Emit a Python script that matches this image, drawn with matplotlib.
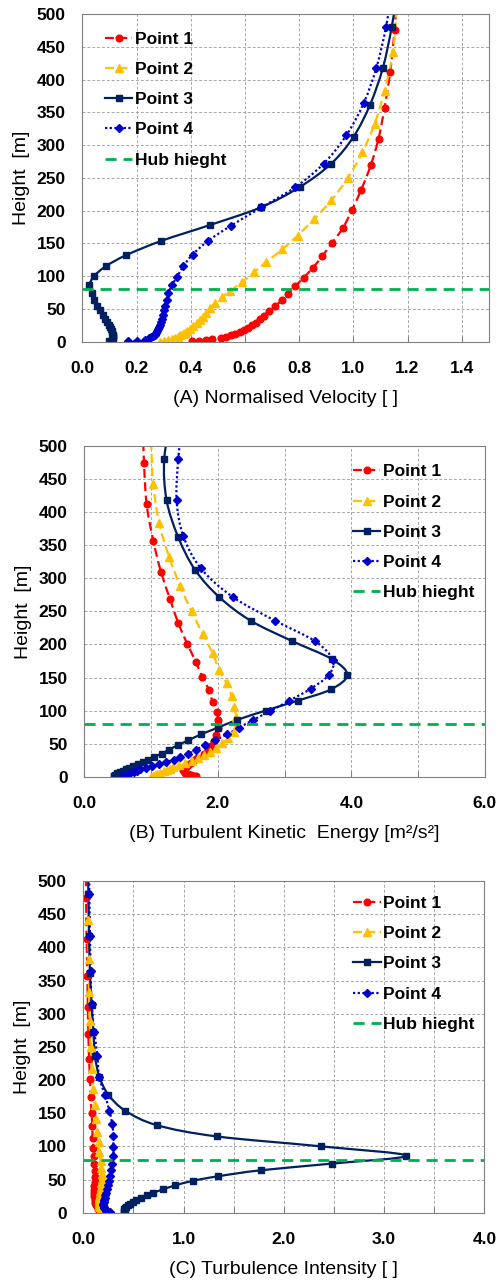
import matplotlib
matplotlib.use('agg')
from matplotlib import pyplot as plt
from matplotlib.path import Path
from matplotlib.patches import PathPatch
from matplotlib.lines import Line2D

plt.rcParams['font.family'] = ['Liberation Sans', 'DejaVu Sans']

# heights of the sampling points of each profile [m]
h1 = [546, 475, 412, 357, 310, 269, 232, 201, 174, 151, 131, 113, 98, 85, 73, 63, 54,
      47, 40, 34, 29, 25, 21, 18, 15, 12, 10, 8, 6, 4, 2.5, 1.2, 0.4]
h2 = [508, 442, 383, 333, 289, 250, 216, 187, 162, 141, 122, 106, 91, 78, 68, 59, 51,
      44, 38, 33, 28, 24, 20, 17, 14, 12, 10, 8, 6, 4, 2.5, 1.2, 0.3]
h3 = [553, 481, 418, 362, 313, 272, 236, 205, 178, 154, 132, 115, 100, 86, 74, 64, 55,
      48, 41, 35, 30, 26, 22, 19, 16, 13, 11, 9, 7, 5, 3, 1.5, 0.5]
h4 = [553, 481, 418, 364, 315, 272, 236, 205, 177, 154, 133, 115, 99, 86, 74, 64, 55,
      48, 41, 35, 30, 26, 22, 19, 16, 13, 11, 9, 7, 5, 3, 1.5, 0.5]

# (A) normalised velocity
vel1 = [1.165, 1.152, 1.136, 1.115, 1.093, 1.064, 1.029, 0.995, 0.962, 0.922, 0.886, 0.851,
        0.817, 0.786, 0.759, 0.735, 0.710, 0.689, 0.671, 0.655, 0.640, 0.625, 0.610, 0.595,
        0.580, 0.563, 0.547, 0.530, 0.510, 0.480, 0.455, 0.430, 0.405]
vel2 = [1.160, 1.146, 1.115, 1.079, 1.033, 0.980, 0.919, 0.855, 0.794, 0.738, 0.679, 0.634,
        0.590, 0.546, 0.516, 0.490, 0.472, 0.458, 0.447, 0.436, 0.424, 0.410, 0.397, 0.388,
        0.378, 0.370, 0.362, 0.353, 0.342, 0.330, 0.317, 0.300, 0.285]
vel3 = [1.170, 1.142, 1.109, 1.062, 1.001, 0.919, 0.802, 0.658, 0.470, 0.292, 0.161, 0.086,
        0.043, 0.026, 0.034, 0.045, 0.055, 0.065, 0.075, 0.085, 0.091, 0.098, 0.103, 0.106,
        0.109, 0.111, 0.112, 0.113, 0.113, 0.112, 0.110, 0.106, 0.100]
vel4 = [1.150, 1.121, 1.085, 1.038, 0.974, 0.891, 0.786, 0.661, 0.548, 0.464, 0.407, 0.372,
        0.350, 0.330, 0.318, 0.311, 0.306, 0.302, 0.297, 0.294, 0.290, 0.288, 0.284, 0.281,
        0.277, 0.273, 0.268, 0.262, 0.255, 0.245, 0.230, 0.200, 0.170]

# (B) turbulent kinetic energy [m2/s2]
tke1 = [0.87, 0.894, 0.934, 1.033, 1.148, 1.283, 1.408, 1.543, 1.668, 1.767, 1.867, 1.922,
        1.982, 2.007, 1.997, 1.98, 1.95, 1.90, 1.85, 1.79, 1.69, 1.65, 1.60, 1.56,
        1.52, 1.49, 1.48, 1.49, 1.51, 1.55, 1.60, 1.64, 1.67]
tke2 = [1.00, 1.033, 1.123, 1.268, 1.433, 1.608, 1.772, 1.922, 2.017, 2.132, 2.207, 2.247,
        2.27, 2.28, 2.24, 2.15, 2.07, 1.98, 1.88, 1.79, 1.70, 1.61, 1.51, 1.42,
        1.33, 1.28, 1.233, 1.19, 1.14, 1.09, 1.06, 1.03, 1.00]
tke3 = [1.32, 1.198, 1.233, 1.408, 1.658, 2.017, 2.491, 3.115, 3.704, 3.939, 3.694, 3.195,
        2.716, 2.292, 1.997, 1.747, 1.558, 1.408, 1.273, 1.158, 1.043, 0.949, 0.874, 0.80,
        0.734, 0.674, 0.624, 0.574, 0.534, 0.494, 0.464, 0.45, 0.44]
tke4 = [1.48, 1.408, 1.383, 1.483, 1.747, 2.222, 2.856, 3.455, 3.719, 3.664, 3.39, 3.07,
        2.781, 2.531, 2.317, 2.14, 1.957, 1.81, 1.68, 1.56, 1.44, 1.34, 1.22, 1.12,
        1.02, 0.92, 0.84, 0.79, 0.74, 0.69, 0.64, 0.61, 0.585]

# (C) turbulence intensity
ti1 = [0.025, 0.027, 0.033, 0.040, 0.045, 0.050, 0.057, 0.066, 0.072, 0.083, 0.088, 0.093,
       0.100, 0.106, 0.110, 0.113, 0.113, 0.113, 0.110, 0.110, 0.110, 0.110, 0.113, 0.116,
       0.120, 0.126, 0.133, 0.142, 0.150, 0.160, 0.170, 0.178, 0.183]
ti2 = [0.048, 0.050, 0.052, 0.057, 0.062, 0.073, 0.090, 0.100, 0.113, 0.126, 0.140, 0.153,
       0.160, 0.173, 0.180, 0.183, 0.183, 0.180, 0.175, 0.170, 0.165, 0.160, 0.157, 0.155,
       0.155, 0.157, 0.160, 0.165, 0.172, 0.182, 0.190, 0.200, 0.210]
ti3 = [0.045, 0.050, 0.057, 0.066, 0.083, 0.100, 0.116, 0.160, 0.249, 0.416, 0.732, 1.330,
       2.371, 3.219, 2.477, 1.772, 1.347, 1.091, 0.914, 0.791, 0.698, 0.632, 0.572, 0.525,
       0.492, 0.466, 0.442, 0.426, 0.416, 0.410, 0.408, 0.410, 0.416]
ti4 = [0.055, 0.060, 0.066, 0.073, 0.083, 0.110, 0.140, 0.157, 0.216, 0.259, 0.289, 0.299,
       0.299, 0.299, 0.289, 0.278, 0.268, 0.258, 0.248, 0.238, 0.228, 0.220, 0.213, 0.207,
       0.203, 0.200, 0.200, 0.201, 0.205, 0.213, 0.225, 0.245, 0.265]

hub_height = 80
labels = ['Point 1', 'Point 2', 'Point 3', 'Point 4', 'Hub hieght']
heights = [h1, h2, h3, h4]

styles = [
    dict(color='#FF0000', ls=(0, (4, 2)), marker='o', ms=4.8),
    dict(color='#FFC000', ls=(0, (4, 2)), marker='^', ms=6),
    dict(color='#002060', ls='-', marker='s', ms=4.8),
    dict(color='#0000CC', ls=(0, (1, 1.1)), marker='D', ms=4.5),
]
hub_style = dict(color='#00B050', lw=2, ls=(0, (4, 2.5)))


def smooth_path(x, y):
    """Smoothed line through the points (like the 'smoothed line' option of a spreadsheet)"""
    n = len(x)
    verts = [(x[0], y[0])]
    codes = [Path.MOVETO]
    for i in range(n - 1):
        a = max(i - 1, 0)
        b = min(i + 2, n - 1)
        c1 = (x[i] + (x[i + 1] - x[a]) / 6, y[i] + (y[i + 1] - y[a]) / 6)
        c2 = (x[i + 1] - (x[b] - x[i]) / 6, y[i + 1] - (y[b] - y[i]) / 6)
        verts += [c1, c2, (x[i + 1], y[i + 1])]
        codes += [Path.CURVE4] * 3
    return Path(verts, codes)


def profile_panel(ax, values, xmax, xstep, label_every, xlabel, legend_pos):
    handles = []
    for h, v, st in zip(heights, values, styles):
        ax.add_patch(PathPatch(smooth_path(v, h), facecolor='none', edgecolor=st['color'],
                               lw=1.6, linestyle=st['ls']))
        ax.plot(v, h, ls='none', marker=st['marker'], ms=st['ms'], color=st['color'])
        handles.append(Line2D([], [], lw=1.6, **st))
    ax.axhline(hub_height, **hub_style)
    handles.append(Line2D([], [], **hub_style))

    ax.set_xlim(0, xmax)
    ax.set_ylim(0, 500)
    n = int(xmax / xstep + 1e-6)
    ticks = [i * xstep for i in range(n + 1)]
    ax.set_xticks(ticks)
    ax.set_xticklabels(['%.1f' % t if i % label_every == 0 else '' for i, t in enumerate(ticks)])
    ax.set_yticks(range(0, 501, 50))

    ax.grid(True, color='#A8A8A8', ls=(0, (3, 2)), lw=0.7)
    ax.set_axisbelow(True)
    for s in ax.spines.values():
        s.set_color('#808080')
    ax.tick_params(axis='x', direction='in', length=4, color='#808080', pad=14)
    ax.tick_params(axis='y', length=0, pad=12)
    for t in ax.get_xticklabels() + ax.get_yticklabels():
        t.set_fontsize(12.5)
        t.set_fontweight('bold')

    ax.set_xlabel(xlabel, fontsize=14, labelpad=10)
    ax.set_ylabel('Height  [m]', fontsize=14, labelpad=5)
    ax.legend(handles, labels, loc='upper left', bbox_to_anchor=legend_pos, frameon=False,
              numpoints=1, handlelength=1.6, handletextpad=0.15, labelspacing=0.87,
              borderpad=0, borderaxespad=0, prop=dict(weight='bold', size=12.5))


fig = plt.figure(figsize=(4.97, 12.8), dpi=100)
ax_a = fig.add_axes([0.1656, 0.733, 0.818, 0.256])
ax_b = fig.add_axes([0.1696, 0.3932, 0.806, 0.2583])
ax_c = fig.add_axes([0.1677, 0.0526, 0.807, 0.259])

profile_panel(ax_a, [vel1, vel2, vel3, vel4], 1.5, 0.2, 1,
              '(A) Normalised Velocity [ ]', (0.055, 0.947))
profile_panel(ax_b, [tke1, tke2, tke3, tke4], 6.0, 1.0, 2,
              '(B) Turbulent Kinetic  Energy [m²/s²]', (0.67, 0.945))
profile_panel(ax_c, [ti1, ti2, ti3, ti4], 4.0, 0.5, 2,
              '(C) Turbulence Intensity [ ]', (0.672, 0.956))

fig.savefig('out.png', dpi=100)
